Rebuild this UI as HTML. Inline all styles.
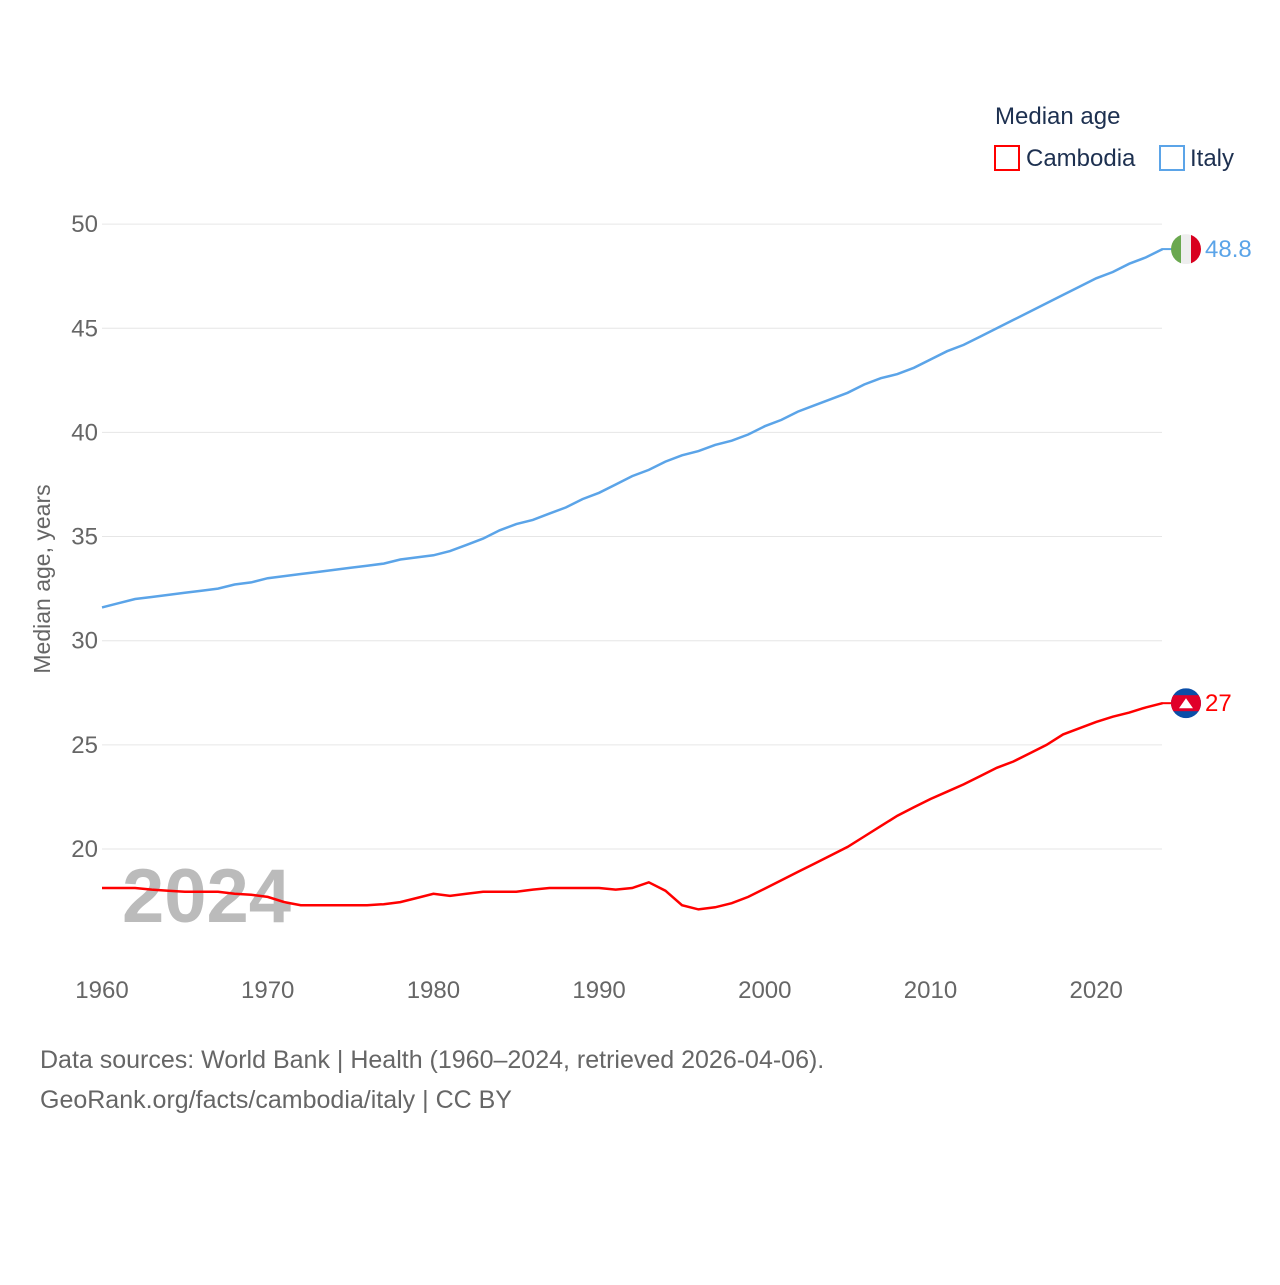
<!DOCTYPE html>
<html><head><meta charset="utf-8"><style>
body{margin:0;background:#fff;font-family:"Liberation Sans",sans-serif;}
svg text{font-family:"Liberation Sans",sans-serif;}
</style></head><body>
<svg width="1280" height="1280" xmlns="http://www.w3.org/2000/svg" id="chart">
<defs>
<clipPath id="ci"><circle cx="1186" cy="248" r="15"/></clipPath>
</defs>
<text x="995" y="124" font-size="24" fill="#1d3050">Median age</text>
<g><rect x="995" y="146" width="24" height="24" fill="none" stroke="#f00" stroke-width="2"/><text x="1026" y="166" font-size="24" fill="#1d3050">Cambodia</text></g>
<g><rect x="1160" y="146" width="24" height="24" fill="none" stroke="#5ba4e8" stroke-width="2"/><text x="1190" y="166" font-size="24" fill="#1d3050">Italy</text></g>
<g id="grid"></g>
<g id="yt"></g>
<g id="xt"></g>
<text x="50" y="579" font-size="23" fill="#666" transform="rotate(-90 50 579)" text-anchor="middle">Median age, years</text>
<text x="122" y="922" font-size="76" font-weight="bold" fill="#bbb">2024</text>
<g id="lines"></g>
<text x="40" y="1068" font-size="25" fill="#666">Data sources: World Bank | Health (1960–2024, retrieved 2026-04-06).</text>
<text x="40" y="1108" font-size="25" fill="#666">GeoRank.org/facts/cambodia/italy | CC BY</text>
</svg>
<script>
const years=[];for(let y=1960;y<=2024;y++)years.push(y);
const cambodia=[18.13,18.13,18.13,18.05,18.0,17.95,17.95,17.95,17.85,17.8,17.7,17.45,17.3,17.3,17.3,17.3,17.3,17.35,17.45,17.65,17.85,17.75,17.85,17.95,17.95,17.95,18.05,18.13,18.13,18.13,18.13,18.05,18.13,18.4,18.0,17.3,17.1,17.2,17.4,17.7,18.1,18.5,18.9,19.3,19.7,20.1,20.6,21.1,21.6,22.0,22.4,22.75,23.1,23.5,23.9,24.2,24.6,25.0,25.5,25.8,26.1,26.35,26.55,26.8,27.0];
const italy=[31.6,31.8,32.0,32.1,32.2,32.3,32.4,32.5,32.7,32.8,33.0,33.1,33.2,33.3,33.4,33.5,33.6,33.7,33.9,34.0,34.1,34.3,34.6,34.9,35.3,35.6,35.8,36.1,36.4,36.8,37.1,37.5,37.9,38.2,38.6,38.9,39.1,39.4,39.6,39.9,40.3,40.6,41.0,41.3,41.6,41.9,42.3,42.6,42.8,43.1,43.5,43.9,44.2,44.6,45.0,45.4,45.8,46.2,46.6,47.0,47.4,47.7,48.1,48.4,48.8];
const yTicks=[20,25,30,35,40,45,50];
const xTicks=[1960,1970,1980,1990,2000,2010,2020];
const X=v=>102+(v-1960)*16.57, Y=v=>849-(v-20)*20.83;
const NS="http://www.w3.org/2000/svg";
function mk(t,a,p){const e=document.createElementNS(NS,t);for(const k in a)e.setAttribute(k,a[k]);p.appendChild(e);return e;}
const grid=document.getElementById('grid'),yt=document.getElementById('yt'),xt=document.getElementById('xt'),lines=document.getElementById('lines');
yTicks.forEach(v=>{const l=mk('line',{x1:102,x2:1162,y1:Y(v),y2:Y(v),stroke:'#e6e6e6','stroke-width':1},grid);


const t=mk('text',{x:98,y:Y(v)+8,'font-size':24,fill:'#666','text-anchor':'end'},yt);t.textContent=v;

});
xTicks.forEach(v=>{const t=mk('text',{x:X(v),y:998,'font-size':24,fill:'#666','text-anchor':'middle'},xt);t.textContent=v;

});
let cid=0;
function series(arr,col,name,lab,flag){
const d=arr.map((v,i)=>(i?'L':'M')+X(years[i]).toFixed(1)+','+Y(v).toFixed(1)).join('');
const p=mk('path',{d:d,fill:'none',stroke:col,'stroke-width':2.5},lines);


const ly=Y(arr[arr.length-1]);
mk('line',{x1:1162,x2:1172,y1:ly,y2:ly,stroke:col,'stroke-width':2},lines);
const g=mk('g',{},lines);


const id='clip'+(cid++);
const cp=mk('clipPath',{id:id},g);mk('circle',{cx:1186,cy:ly,r:15},cp);
const inner=mk('g',{'clip-path':'url(#'+id+')'},g);
flag(inner,1186,ly);
const t=mk('text',{x:1205,y:ly+8,'font-size':24,fill:col},lines);t.textContent=lab;

}
series(italy,'#5ba4e8','italy','48.8',(g,cx,cy)=>{
mk('rect',{x:cx-15,y:cy-15,width:10,height:30,fill:'#6aa84f'},g);
mk('rect',{x:cx-5,y:cy-15,width:10,height:30,fill:'#eee'},g);
mk('rect',{x:cx+5,y:cy-15,width:10,height:30,fill:'#d8001f'},g);});
series(cambodia,'#f00','cambodia','27',(g,cx,cy)=>{
mk('rect',{x:cx-15,y:cy-15,width:30,height:30,fill:'#0a4ea8'},g);
mk('rect',{x:cx-15,y:cy-8,width:30,height:16,fill:'#e0002a'},g);
mk('polygon',{points:`${cx-7},${cy+5} ${cx+7},${cy+5} ${cx},${cy-5}`,fill:'#fff'},g);});
</script>
</body></html>
